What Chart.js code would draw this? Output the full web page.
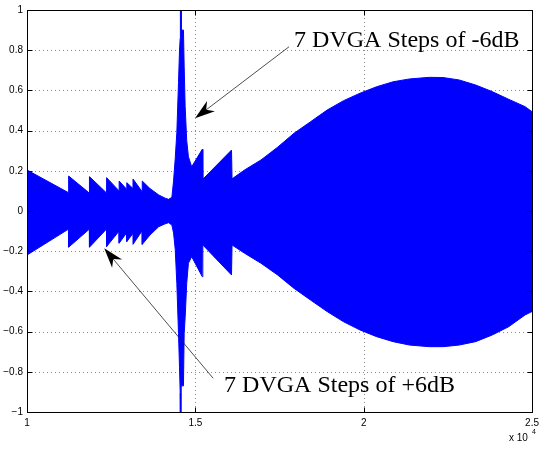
<!DOCTYPE html>
<html>
<head>
<meta charset="utf-8">
<script src="https://cdn.jsdelivr.net/npm/chart.js@4.4.0/dist/chart.umd.min.js"></script>
<style>
html,body{margin:0;padding:0;background:#fff;}
#wrap{width:544px;height:452px;}
</style>
</head>
<body>
<div id="wrap"><canvas id="chart" width="544" height="452"></canvas></div>
<script>
// envelope of the DVGA output (x in units of 1e4 samples)
const sampleX = [
  1.0000, 1.1235, 1.1237, 1.1853, 1.1855, 1.2362, 1.2364, 1.2735, 1.2737, 1.2962,
  1.2964, 1.3147, 1.3149, 1.3421, 1.3423, 1.3650, 1.3912, 1.4100, 1.4206, 1.4303,
  1.4353, 1.4402, 1.4450, 1.4500, 1.4530, 1.4550, 1.4556, 1.4574, 1.4580, 1.4647,
  1.4668, 1.4697, 1.4744, 1.4794, 1.4891, 1.5206, 1.5222, 1.6074, 1.6090, 1.6461,
  1.6950, 1.7441, 1.7932, 1.8421, 1.8912, 1.9403, 1.9891, 2.0382, 2.0874, 2.1362,
  2.1950, 2.2356, 2.2832, 2.3324, 2.3815, 2.4303, 2.4794, 2.5000
];
const upperEnv = [
  0.204, 0.091, 0.174, 0.089, 0.171, 0.090, 0.166, 0.100, 0.149, 0.108,
  0.141, 0.112, 0.159, 0.096, 0.149, 0.112, 0.080, 0.064, 0.058, 0.068,
  0.150, 0.260, 0.390, 0.640, 0.800, 0.860, 1.050, 1.050, 0.900, 0.900,
  0.720, 0.520, 0.350, 0.270, 0.220, 0.307, 0.158, 0.303, 0.160, 0.204,
  0.254, 0.317, 0.387, 0.444, 0.502, 0.549, 0.586, 0.618, 0.643, 0.657,
  0.665, 0.664, 0.652, 0.627, 0.594, 0.556, 0.519, 0.494
];
const lowerEnv = [
  -0.219, -0.090, -0.180, -0.090, -0.180, -0.090, -0.177, -0.100, -0.160, -0.108,
  -0.152, -0.112, -0.166, -0.098, -0.166, -0.120, -0.078, -0.064, -0.058, -0.070,
  -0.110, -0.190, -0.360, -0.610, -0.780, -0.905, -1.050, -1.050, -0.870, -0.870,
  -0.610, -0.530, -0.360, -0.260, -0.227, -0.327, -0.169, -0.318, -0.169, -0.210,
  -0.260, -0.318, -0.385, -0.443, -0.500, -0.551, -0.592, -0.625, -0.650, -0.667,
  -0.675, -0.675, -0.667, -0.650, -0.617, -0.576, -0.517, -0.500
];
const xTicks = [1, 1.5, 2, 2.5];
const xTickLabels = ['1', '1.5', '2', '2.5'];
const yTicks = [-1, -0.8, -0.6, -0.4, -0.2, 0, 0.2, 0.4, 0.6, 0.8, 1];
const yTickLabels = ['\u22121', '\u22120.8', '\u22120.6', '\u22120.4', '\u22120.2', '0', '0.2', '0.4', '0.6', '0.8', '1'];

// annotations: text anchor (left, baseline) and arrow tail/tip, in data units
const notes = [
  { text: '7 DVGA Steps of -6dB', at: [1.7932, 0.8159], tail: [1.7785, 0.8174], tip: [1.4991, 0.4612] },
  { text: '7 DVGA Steps of +6dB', at: [1.5853, -0.9005], tail: [1.5529, -0.8323], tip: [1.2294, -0.1856] }
];

function drawArrow(ctx, x0, y0, x1, y1){
  const ang = Math.atan2(y1 - y0, x1 - x0);
  const len = 20, half = 6.5, notch = 14;
  ctx.beginPath();
  ctx.moveTo(x0, y0);
  ctx.lineTo(x1 - Math.cos(ang)*notch, y1 - Math.sin(ang)*notch);
  ctx.stroke();
  const bx = x1 - Math.cos(ang)*len, by = y1 - Math.sin(ang)*len;
  const nx = -Math.sin(ang), ny = Math.cos(ang);
  ctx.beginPath();
  ctx.moveTo(x1, y1);
  ctx.lineTo(bx + nx*half, by + ny*half);
  ctx.lineTo(x1 - Math.cos(ang)*notch, y1 - Math.sin(ang)*notch);
  ctx.lineTo(bx - nx*half, by - ny*half);
  ctx.closePath();
  ctx.fill();
}

const matlabAxes = {
  id: 'matlabAxes',
  beforeDatasetsDraw(chart){
    const {ctx, chartArea: a, scales: {x, y}} = chart;
    ctx.save();
    ctx.strokeStyle = '#8a8a8a';
    ctx.lineWidth = 1;
    ctx.setLineDash([1, 3]);
    xTicks.forEach(v => {
      const px = Math.round(x.getPixelForValue(v)) + 0.5;
      if(px <= a.left + 2 || px >= a.right - 2) return;
      ctx.beginPath(); ctx.moveTo(px, a.top); ctx.lineTo(px, a.bottom); ctx.stroke();
    });
    yTicks.forEach(v => {
      const py = Math.round(y.getPixelForValue(v)) + 0.5;
      if(py <= a.top + 2 || py >= a.bottom - 2) return;
      ctx.beginPath(); ctx.moveTo(a.left, py); ctx.lineTo(a.right, py); ctx.stroke();
    });
    ctx.restore();
  },
  afterDatasetsDraw(chart){
    const {ctx, chartArea: a, scales: {x, y}} = chart;
    const L = Math.round(a.left) + 0.5, R = Math.round(a.right) + 0.5;
    const T = Math.round(a.top) + 0.5, B = Math.round(a.bottom) + 0.5;
    const tl = 5;
    ctx.save();
    ctx.strokeStyle = '#000';
    ctx.lineWidth = 1;
    ctx.strokeRect(L, T, R - L, B - T);
    ctx.beginPath();
    xTicks.forEach(v => {
      const px = Math.round(x.getPixelForValue(v)) + 0.5;
      ctx.moveTo(px, B); ctx.lineTo(px, B - tl);
      ctx.moveTo(px, T); ctx.lineTo(px, T + tl);
    });
    yTicks.forEach(v => {
      const py = Math.round(y.getPixelForValue(v)) + 0.5;
      ctx.moveTo(L, py); ctx.lineTo(L + tl, py);
      ctx.moveTo(R, py); ctx.lineTo(R - tl, py);
    });
    ctx.stroke();
    ctx.restore();
  },
  afterDraw(chart){
    const {ctx, scales: {x, y}} = chart;
    ctx.save();
    ctx.fillStyle = '#000';
    ctx.strokeStyle = '#222';
    ctx.lineWidth = 0.8;
    ctx.font = '24px "Liberation Serif", "Times New Roman", serif';
    ctx.textBaseline = 'alphabetic';
    notes.forEach(n => {
      ctx.fillText(n.text, x.getPixelForValue(n.at[0]), y.getPixelForValue(n.at[1]));
      drawArrow(ctx,
        x.getPixelForValue(n.tail[0]), y.getPixelForValue(n.tail[1]),
        x.getPixelForValue(n.tip[0]), y.getPixelForValue(n.tip[1]));
    });
    // axis multiplier
    ctx.font = '10px "Liberation Sans", Arial, sans-serif';
    ctx.fillText('x 10', 509, 441);
    ctx.font = '7px "Liberation Sans", Arial, sans-serif';
    ctx.fillText('4', 532, 434);
    ctx.restore();
  }
};

const tickFont = { family: '"Liberation Sans", Arial, sans-serif', size: 10 };

new Chart(document.getElementById('chart'), {
  type: 'line',
  data: {
    datasets: [
      {
        data: sampleX.map((v, i) => ({ x: v, y: upperEnv[i] })),
        borderColor: '#0000ff', backgroundColor: '#0000ff',
        borderWidth: 1, pointRadius: 0, tension: 0, fill: '+1'
      },
      {
        data: sampleX.map((v, i) => ({ x: v, y: lowerEnv[i] })),
        borderColor: '#0000ff', backgroundColor: '#0000ff',
        borderWidth: 1, pointRadius: 0, tension: 0, fill: false
      }
    ]
  },
  options: {
    responsive: false,
    animation: false,
    devicePixelRatio: 1,
    layout: { padding: { top: 10, right: 7, left: 0, bottom: 0 } },
    plugins: { legend: { display: false }, tooltip: { enabled: false } },
    scales: {
      x: {
        type: 'linear', min: 1, max: 2.5,
        grid: { display: false, drawTicks: false },
        border: { display: false },
        afterBuildTicks: s => { s.ticks = xTicks.map(v => ({ value: v })); },
        afterFit: s => { s.height = 40; },
        ticks: {
          padding: 5, color: '#000', font: tickFont, maxRotation: 0,
          callback: (v, i) => xTickLabels[i]
        }
      },
      y: {
        type: 'linear', min: -1, max: 1,
        grid: { display: false, drawTicks: false },
        border: { display: false },
        afterBuildTicks: s => { s.ticks = yTicks.map(v => ({ value: v })); },
        afterFit: s => { s.width = 27; },
        ticks: {
          padding: 4, color: '#000', font: tickFont,
          callback: (v, i) => yTickLabels[i]
        }
      }
    }
  },
  plugins: [matlabAxes]
});
</script>
</body>
</html>
